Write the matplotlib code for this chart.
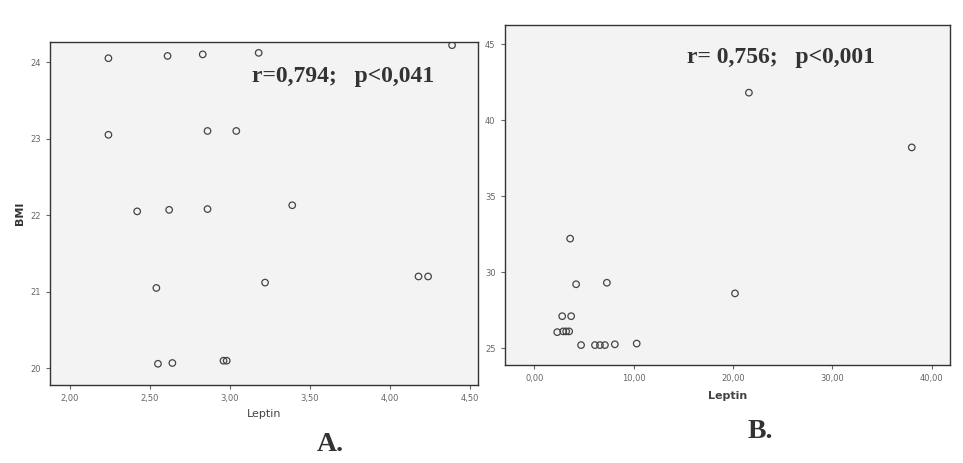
import matplotlib.pyplot as plt

# Panel A: Leptin vs BMI
leptin_a = [2.24, 2.61, 2.83, 3.18, 4.39, 2.24, 2.86, 3.04, 2.42, 2.62, 2.86, 3.39,
            4.18, 4.24, 2.54, 3.22, 2.55, 2.64, 2.96, 2.98]
bmi_a = [24.05, 24.08, 24.1, 24.12, 24.22, 23.05, 23.1, 23.1, 22.05, 22.07, 22.08, 22.13,
         21.2, 21.2, 21.05, 21.12, 20.06, 20.07, 20.1, 20.1]

# Panel B
leptin_b = [3.6, 4.2, 7.3, 2.8, 3.7, 2.3, 2.9, 3.2, 3.5, 4.7, 6.1, 6.6, 7.1, 8.1, 10.3,
            20.2, 21.6, 38.0]
bmi_b = [32.2, 29.2, 29.3, 27.1, 27.1, 26.05, 26.1, 26.1, 26.1, 25.2, 25.2, 25.2, 25.2,
         25.25, 25.3, 28.6, 41.8, 38.2]

ticks_a_x = [2.0, 2.5, 3.0, 3.5, 4.0, 4.5]
ticks_a_y = [20, 21, 22, 23, 24]
ticks_b_x = [0, 10, 20, 30, 40]
ticks_b_y = [25, 30, 35, 40, 45]

fig = plt.figure(figsize=(9.63, 4.63), dpi=100)
fig.patch.set_facecolor('white')

ax1 = fig.add_axes([0.052, 0.168, 0.444, 0.741])
ax2 = fig.add_axes([0.524, 0.212, 0.463, 0.734])

for ax in (ax1, ax2):
    ax.set_facecolor('#f3f3f3')
    for s in ax.spines.values():
        s.set_color('#333333')
        s.set_linewidth(1.0)
    ax.tick_params(labelsize=6, colors='#666666', length=3, width=0.8)

ax1.scatter(leptin_a, bmi_a, s=22, facecolors='none', edgecolors='#444444', linewidths=0.9)
ax1.set_xlim(1.875, 4.55)
ax1.set_ylim(19.78, 24.26)
ax1.set_xticks(ticks_a_x)
ax1.set_xticklabels([('%.2f' % v).replace('.', ',') for v in ticks_a_x])
ax1.set_yticks(ticks_a_y)
ax1.set_yticklabels([str(v) for v in ticks_a_y])
ax1.set_xlabel('Leptin', fontsize=8, color='#444444', labelpad=4)
ax1.set_ylabel('BMI', fontsize=8, color='#333333', fontweight='bold', labelpad=4)
ax1.text(0.685, 0.9, 'r=0,794;   p<0,041', transform=ax1.transAxes, ha='center', va='center',
         fontsize=17, fontweight='bold', family='Liberation Serif', color='#333333')

ax2.scatter(leptin_b, bmi_b, s=22, facecolors='none', edgecolors='#444444', linewidths=0.9)
ax2.set_xlim(-3.0, 41.9)
ax2.set_ylim(23.9, 46.25)
ax2.set_xticks(ticks_b_x)
ax2.set_xticklabels([('%.2f' % v).replace('.', ',') for v in ticks_b_x])
ax2.set_yticks(ticks_b_y)
ax2.set_yticklabels([str(v) for v in ticks_b_y])
ax2.set_xlabel('Leptin', fontsize=8, color='#444444', fontweight='bold', labelpad=6)
ax2.text(0.62, 0.905, 'r= 0,756;   p<0,001', transform=ax2.transAxes, ha='center', va='center',
         fontsize=17, fontweight='bold', family='Liberation Serif', color='#333333')

fig.text(0.343, 0.04, 'A.', fontsize=20, fontweight='bold', family='Liberation Serif',
         color='#333333', ha='center', va='center')
fig.text(0.79, 0.067, 'B.', fontsize=20, fontweight='bold', family='Liberation Serif',
         color='#333333', ha='center', va='center')

fig.savefig('out.png', dpi=100)
